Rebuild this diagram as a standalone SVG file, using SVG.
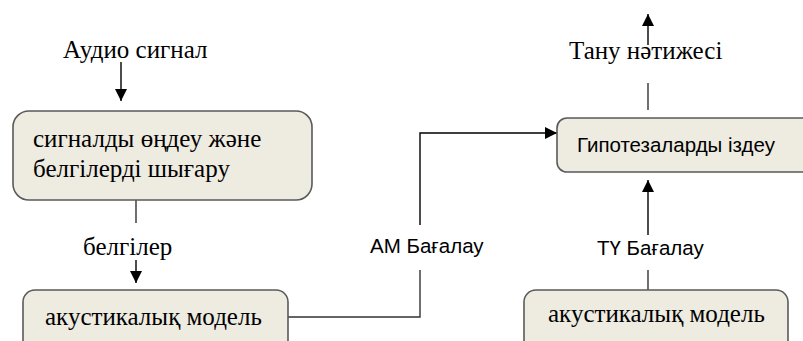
<svg xmlns="http://www.w3.org/2000/svg" width="803" height="341" viewBox="0 0 803 341">
<defs>
<marker id="ah" viewBox="0 0 12 12" markerWidth="12" markerHeight="12" refX="12" refY="6" orient="auto" markerUnits="userSpaceOnUse">
<path d="M0,0 L12,6 L0,12 Z" fill="#000"/>
</marker>
</defs>
<style>
.box{fill:#EEEBE1;stroke:#5a5a5a;stroke-width:1.6}
.serif{font-family:"Liberation Serif","Times New Roman",serif;font-size:25px;fill:#000}
.sans{font-family:"Liberation Sans",Arial,sans-serif;font-size:20.5px;fill:#000}
.ln{fill:none;stroke:#000;stroke-width:1.4}
.gl{fill:none;stroke:#333;stroke-width:1.4}
</style>
<rect width="803" height="341" fill="#fff"/>
<g id="connectors">
<line class="ln" x1="121" y1="62" x2="121" y2="101" marker-end="url(#ah)"/>
<line class="gl" x1="136" y1="200" x2="136" y2="223"/>
<line class="ln" x1="136" y1="260" x2="136" y2="283" marker-end="url(#ah)"/>
<polyline class="gl" points="288,317 420,317 420,270"/>
<polyline class="ln" points="420,225 420,133 557,133" marker-end="url(#ah)"/>
<line class="gl" x1="648" y1="110" x2="648" y2="83"/>
<line class="ln" x1="648" y1="45" x2="648" y2="14" marker-end="url(#ah)"/>
<line class="gl" x1="648" y1="290" x2="648" y2="270"/>
<line class="ln" x1="648" y1="235" x2="648" y2="180" marker-end="url(#ah)"/>
</g>
<g id="label-audio"><text class="serif" x="63" y="58">Аудио сигнал</text></g>
<g id="node-signal">
<rect class="box" x="13" y="111" width="299" height="89" rx="16"/>
<text class="serif" x="33" y="147">сигналды өңдеу және</text>
<text class="serif" x="33" y="177">белгілерді шығару</text>
</g>
<g id="label-features"><text class="serif" x="83" y="255">белгілер</text></g>
<g id="node-am">
<rect class="box" x="23" y="290" width="265" height="70" rx="12"/>
<text class="serif" x="45" y="325">акустикалық модель</text>
</g>
<g id="label-am"><text class="sans" x="370" y="253">АМ Бағалау</text></g>
<g id="node-search">
<rect class="box" x="557" y="118" width="260" height="54" rx="10"/>
<text class="sans" x="577" y="152">Гипотезаларды іздеу</text>
</g>
<g id="label-result"><text class="serif" x="569" y="59">Тану нәтижесі</text></g>
<g id="label-lm"><text class="sans" x="597" y="255">ТҮ Бағалау</text></g>
<g id="node-lm">
<rect class="box" x="524" y="290" width="264" height="70" rx="12"/>
<text class="serif" x="548" y="322">акустикалық модель</text>
</g>
</svg>
